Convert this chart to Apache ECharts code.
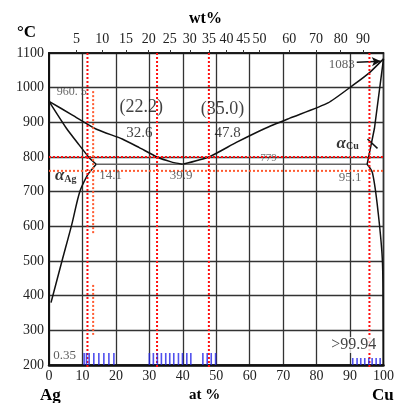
<!DOCTYPE html>
<html>
<head>
<meta charset="utf-8">
<script src="https://cdn.jsdelivr.net/npm/echarts@6/dist/echarts.min.js"></script>
<style>
html, body { margin: 0; padding: 0; background: #fff; }
#main { width: 397px; height: 403px; }
</style>
</head>
<body>
<div id="main"></div>
<script>
// x = at% Cu, y = temperature (°C)
const liquidusAg = [[0, 960.5], [7, 921], [14.2, 880], [21.9, 852], [27, 827], [32.3, 800], [36.5, 786], [39.9, 779]];
const liquidusCu = [[39.9, 779], [47.8, 800], [56, 842], [64.7, 883], [72, 912], [83.4, 956], [91, 1008], [96, 1045], [100, 1083]];
const solidusAg = [[0, 960.5], [5.2, 883], [9, 835], [12.1, 797], [14.1, 779]];
const solvusAg = [[14.1, 779], [12.8, 764], [11.5, 748], [9.2, 700], [6.8, 605], [3.8, 497], [1.2, 402], [0.6, 380]];
const solidusCu = [[100, 1083], [97.3, 883], [95.1, 779]];
const solvusCu = [[95.1, 779], [96.7, 754], [98.4, 640], [99.7, 494], [99.9, 320], [99.94, 200]];
const eutectic = [[14.1, 779], [95.1, 779]];

// top axis: wt% labels and where they fall in at%
const wtLabels = ['5', '10', '15', '20', '25', '30', '35', '40', '45', '50', '60', '70', '80', '90'];
const wtAt = [8.2, 15.9, 23.0, 29.8, 36.1, 42.1, 47.8, 53.1, 58.1, 62.9, 71.8, 79.8, 87.2, 93.9];

// red guide lines
const redV = [11.5, 32.3, 47.8, 95.8];
const redH = [800];
const orangeH = [760];
const orangeV = [[13.2, 990, 575], [13.2, 431, 287]];

// blue marks along the bottom
const blueTall = [10.5, 11.2, 12.0, 13.4, 14.9, 16.4, 17.9, 19.4,
  30.0, 31.2, 32.4, 33.6, 34.9, 36.1, 37.3, 38.7, 39.9, 41.2, 42.4,
  46.0, 47.3, 48.5, 49.8];
const blueShort = [90.8, 92.1, 93.2, 94.4, 95.6, 96.6, 97.8, 99.0];

// text notes [at%, °C, text]
const notes = [
  [6.8, 987, '960. 5'],
  [27.6, 944, '(22.2)'],
  [51.9, 938, '(35.0)'],
  [27.0, 869, '32.6'],
  [53.4, 869, '47.8'],
  [65.6, 797, '779'],
  [18.4, 745, '14.1'],
  [39.5, 745, '39.9'],
  [90.0, 742, '95.1'],
  [87.5, 1068, '1083'],
  [4.7, 226, '0.35'],
  [91.1, 258, '>99.94']
];
const alphaNotes = [[5.0, 745, 'Ag'], [89.3, 840, 'Cu']];

const serif = '"Liberation Serif", "DejaVu Serif", serif';
const noteStyle = {
  '960. 5': { fontSize: 12, color: '#444' },
  '(22.2)': { fontSize: 18 },
  '(35.0)': { fontSize: 18 },
  '32.6': { fontSize: 15 },
  '47.8': { fontSize: 15 },
  '779': { fontSize: 11, color: '#555' },
  '14.1': { fontSize: 13, color: '#444' },
  '39.9': { fontSize: 13, color: '#444' },
  '95.1': { fontSize: 13, color: '#444' },
  '1083': { fontSize: 13, color: '#333' },
  '0.35': { fontSize: 13, color: '#333' },
  '>99.94': { fontSize: 16, backgroundColor: '#fff', padding: [0, 1] }
};

function curve(data, smooth) {
  return {
    type: 'line', data: data, showSymbol: false, symbol: 'none', smooth: smooth || 0,
    lineStyle: { color: '#111', width: 1.5 }, silent: true, z: 5
  };
}
function dotted(data, color) {
  return {
    type: 'line', data: data, showSymbol: false, symbol: 'none', clip: false,
    lineStyle: { color: color, width: 2, type: [2, 2] }, silent: true, z: 6
  };
}

const series = [
  curve(liquidusAg, 0.2),
  curve(liquidusCu, 0.2),
  curve(solidusAg, 0.2),
  curve(solvusAg, 0.3),
  curve(solidusCu),
  curve(solvusCu, 0.3),
  {
    type: 'line', data: eutectic, showSymbol: false, symbol: 'none',
    lineStyle: { color: '#666', width: 1.5 }, silent: true, z: 4
  },
  // pointer to the Cu solid solution
  curve([[95.2, 852], [98.2, 825]])
];
redV.forEach(x => series.push(dotted([[x, 1100], [x, 190]], '#ff1010')));
redH.forEach(y => series.push(dotted([[0, y], [100, y]], '#ff1010')));
orangeH.forEach(y => series.push(dotted([[0, y], [103, y]], '#ff5a30')));
orangeV.forEach(s => series.push(dotted([[s[0], s[1]], [s[0], s[2]]], '#ff5a30')));

series.push({
  type: 'scatter', data: blueTall.map(x => [x, 200]), symbol: 'rect',
  symbolSize: [1.6, 12], symbolOffset: [0, -6], itemStyle: { color: '#2424e8' }, silent: true, z: 7
});
series.push({
  type: 'scatter', data: blueShort.map(x => [x, 200]), symbol: 'rect',
  symbolSize: [1.6, 7], symbolOffset: [0, -3.5], itemStyle: { color: '#2424e8' }, silent: true, z: 7
});

series.push({
  type: 'scatter', symbolSize: 0, silent: true, z: 10,
  data: notes.map(n => ({
    value: [n[0], n[1]], name: n[2],
    label: Object.assign({
      show: true, position: 'inside', formatter: n[2], fontFamily: serif, color: '#111'
    }, noteStyle[n[2]])
  })),
  markLine: {
    silent: true, symbolSize: [7, 9],
    lineStyle: { color: '#111', width: 1.5, type: 'solid' },
    label: { show: false },
    data: [[{ coord: [92.0, 1073], symbol: 'none' }, { coord: [99.2, 1076], symbol: 'arrow' }]]
  }
});
series.push({
  type: 'scatter', symbolSize: 0, silent: true, z: 10,
  data: alphaNotes.map(n => ({ value: [n[0], n[1]], name: n[2] })),
  label: {
    show: true, position: 'inside',
    formatter: p => '{a|α}{s|' + p.name + '}',
    rich: {
      a: { fontFamily: serif, fontStyle: 'italic', fontWeight: 'bold', fontSize: 17, color: '#000' },
      s: { fontFamily: serif, fontWeight: 'bold', fontSize: 10, color: '#000', padding: [7, 0, 0, 0] }
    }
  }
});

const chart = echarts.init(document.getElementById('main'));
chart.setOption({
  animation: false,
  backgroundColor: '#fff',
  grid: { left: 49, right: 11, top: 53, bottom: 38, show: true, borderColor: '#111', borderWidth: 1.5 },
  xAxis: [
    {
      type: 'value', min: 0, max: 100, interval: 10, position: 'bottom',
      axisLine: { onZero: false, lineStyle: { color: '#111', width: 2.5 } },
      axisTick: { show: false },
      axisLabel: { margin: 4, fontFamily: serif, fontSize: 14, color: '#222', formatter: v => String(v) },
      splitLine: { show: true, lineStyle: { color: '#333', width: 1.3 } }
    },
    {
      type: 'value', min: 0, max: 100, position: 'top',
      axisLine: { lineStyle: { color: '#111', width: 1.5 } },
      axisTick: { show: true, customValues: wtAt, length: 3, lineStyle: { color: '#333' } },
      axisLabel: {
        customValues: wtAt, margin: 7, fontFamily: serif, fontSize: 14, color: '#222',
        hideOverlap: false,
        formatter: v => {
          const i = wtAt.findIndex(a => Math.abs(a - v) < 0.01);
          return i < 0 ? '' : wtLabels[i];
        }
      },
      splitLine: { show: false }
    }
  ],
  yAxis: {
    type: 'value', min: 200, max: 1100, interval: 100,
    axisLine: { show: true, onZero: false, lineStyle: { color: '#111', width: 2 } },
    axisTick: { show: false },
    axisLabel: { margin: 5, fontFamily: serif, fontSize: 14, color: '#222', formatter: v => String(v) },
    splitLine: { show: true, lineStyle: { color: '#333', width: 1.3 } }
  },
  graphic: [
    { type: 'text', left: 17, top: 24, style: { text: '°C', font: 'bold 17px ' + serif, fill: '#000' } },
    { type: 'text', left: 189, top: 11, style: { text: 'wt%', font: 'bold 16px ' + serif, fill: '#000' } },
    { type: 'text', left: 189, top: 388, style: { text: 'at %', font: 'bold 15px ' + serif, fill: '#000' } },
    { type: 'text', left: 40, top: 387, style: { text: 'Ag', font: 'bold 17px ' + serif, fill: '#000' } },
    { type: 'text', left: 372, top: 387, style: { text: 'Cu', font: 'bold 17px ' + serif, fill: '#000' } }
  ],
  series: series
});
</script>
</body>
</html>
